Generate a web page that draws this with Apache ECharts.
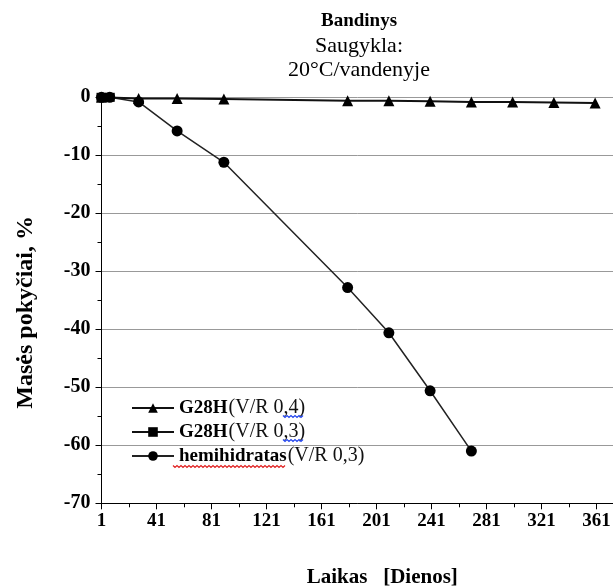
<!DOCTYPE html>
<html>
<head>
<meta charset="utf-8">
<script src="https://cdn.jsdelivr.net/npm/echarts@6/dist/echarts.min.js"></script>
<style>html,body{margin:0;padding:0;background:#fff}#c{width:613px;height:586px}</style>
</head>
<body>
<div id="c"></div>
<script>
// Data
var xTicks = [1, 41, 81, 121, 161, 201, 241, 281, 321, 361];
var yTicks = [0, -10, -20, -30, -40, -50, -60, -70];
var g04Days = [1, 28, 56, 90, 180, 210, 240, 270, 300, 330, 360];
var g04Vals = [0, -0.2, -0.2, -0.3, -0.6, -0.6, -0.7, -0.8, -0.8, -0.9, -1.0];
var g03Days = [1, 7];
var g03Vals = [0, 0];
var hemiDays = [1, 7, 28, 56, 90, 180, 210, 240, 270];
var hemiVals = [0, 0, -0.8, -5.8, -11.2, -32.8, -40.6, -50.6, -61.0];

function pairs(xs, ys){ return xs.map(function(x,i){ return [x, ys[i]]; }); }

// decorative wavy (spell-check) underlines seen in the legend text
function wavy(x0, x1, y, color){
  var pts = [], k = 0;
  for (var x = x0; x <= x1; x += 2, k++) pts.push([x, y + (k % 2 ? 1.5 : -0.5)]);
  return {type: 'polyline', shape: {points: pts}, style: {stroke: color, lineWidth: 1.2, fill: null}, z: 100};
}

var FONT = '"Liberation Serif", "DejaVu Serif", serif';
var chart = echarts.init(document.getElementById('c'));
chart.setOption({
  animation: false,
  backgroundColor: '#fff',
  title: {
    text: 'Bandinys',
    subtext: 'Saugykla:\n20°C/vandenyje',
    left: 354, top: 7, textAlign: 'center',
    itemGap: 3,
    textStyle: {fontFamily: FONT, fontWeight: 'bold', fontSize: 19, color: '#000'},
    subtextStyle: {fontFamily: FONT, fontSize: 22, color: '#000', lineHeight: 24}
  },
  legend: {
    orient: 'vertical', left: 126, top: 393, itemGap: 4,
    itemWidth: 42, itemHeight: 12,
    data: [
      {name: 'G28H (V/R 0,4)'},
      {name: 'G28H (V/R 0,3)'},
      {name: 'hemihidratas(V/R 0,3)'}
    ],
    formatter: function(n){
      if (n.indexOf('hemi') === 0) return '{b|hemihidratas}{n|(V/R 0,3)}';
      return '{b|G28H}{n|' + n.slice(5) + '}';
    },
    textStyle: {
      fontFamily: FONT, color: '#000',
      rich: {
        b: {fontFamily: FONT, fontWeight: 'bold', fontSize: 19, color: '#000'},
        n: {fontFamily: FONT, fontSize: 20, color: '#111', padding: [0, 0, 0, 1]}
      }
    }
  },
  graphic: [
    wavy(283, 303, 416, '#2244ee'),
    wavy(283, 303, 440, '#2244ee'),
    wavy(173, 285, 466, '#e02020')
  ],
  grid: {left: 101.5, right: 0, top: 97.3, bottom: 82.7, containLabel: false, outerBoundsMode: 'none'},
  xAxis: {
    type: 'value', min: 1, max: 373, interval: 40,
    name: 'Laikas   [Dienos]', nameLocation: 'middle', nameGap: 64,
    nameTextStyle: {fontFamily: FONT, fontWeight: 'bold', fontSize: 21, color: '#000', padding: [0, 0, 0, 50]},
    axisLine: {onZero: false, lineStyle: {color: '#000', width: 1}},
    axisTick: {show: true, length: 6, lineStyle: {color: '#000'}},
    minorTick: {show: true, splitNumber: 2, length: 4, lineStyle: {color: '#000'}},
    splitLine: {show: false},
    axisLabel: {
      fontFamily: FONT, fontWeight: 'bold', fontSize: 19, color: '#000', margin: 8,
      showMaxLabel: false,
      formatter: function(v){ return xTicks.indexOf(v) >= 0 ? String(v) : ''; }
    }
  },
  yAxis: {
    type: 'value', min: -70, max: 0, interval: 10,
    name: 'Masės pokyčiai, %', nameLocation: 'middle', nameGap: 64, nameRotate: 90,
    nameTextStyle: {fontFamily: FONT, fontWeight: 'bold', fontSize: 24, color: '#000', padding: [0, 24, 0, 0]},
    axisLine: {show: true, onZero: false, lineStyle: {color: '#000', width: 1}},
    axisTick: {show: true, length: 6, lineStyle: {color: '#000'}},
    minorTick: {show: true, splitNumber: 2, length: 4, lineStyle: {color: '#000'}},
    splitLine: {show: true, lineStyle: {color: '#999', width: 1}},
    axisLabel: {
      fontFamily: FONT, fontWeight: 'bold', fontSize: 20, color: '#000', margin: 11,
      formatter: function(v){ return yTicks.indexOf(v) >= 0 ? String(v) : ''; }
    }
  },
  series: [
    {
      name: 'hemihidratas(V/R 0,3)', type: 'line', data: pairs(hemiDays, hemiVals),
      symbol: 'circle', symbolSize: 11, clip: false,
      lineStyle: {color: '#222', width: 1.5},
      itemStyle: {color: '#000'}
    },
    {
      name: 'G28H (V/R 0,4)', type: 'line', data: pairs(g04Days, g04Vals),
      symbol: 'triangle', symbolSize: 11, clip: false,
      lineStyle: {color: '#111', width: 2},
      itemStyle: {color: '#000'}
    },
    {
      name: 'G28H (V/R 0,3)', type: 'line', data: pairs(g03Days, g03Vals),
      symbol: 'rect', symbolSize: [10, 9], clip: false,
      lineStyle: {color: '#111', width: 2},
      itemStyle: {color: '#000'}
    }
  ]
});
</script>
</body>
</html>
